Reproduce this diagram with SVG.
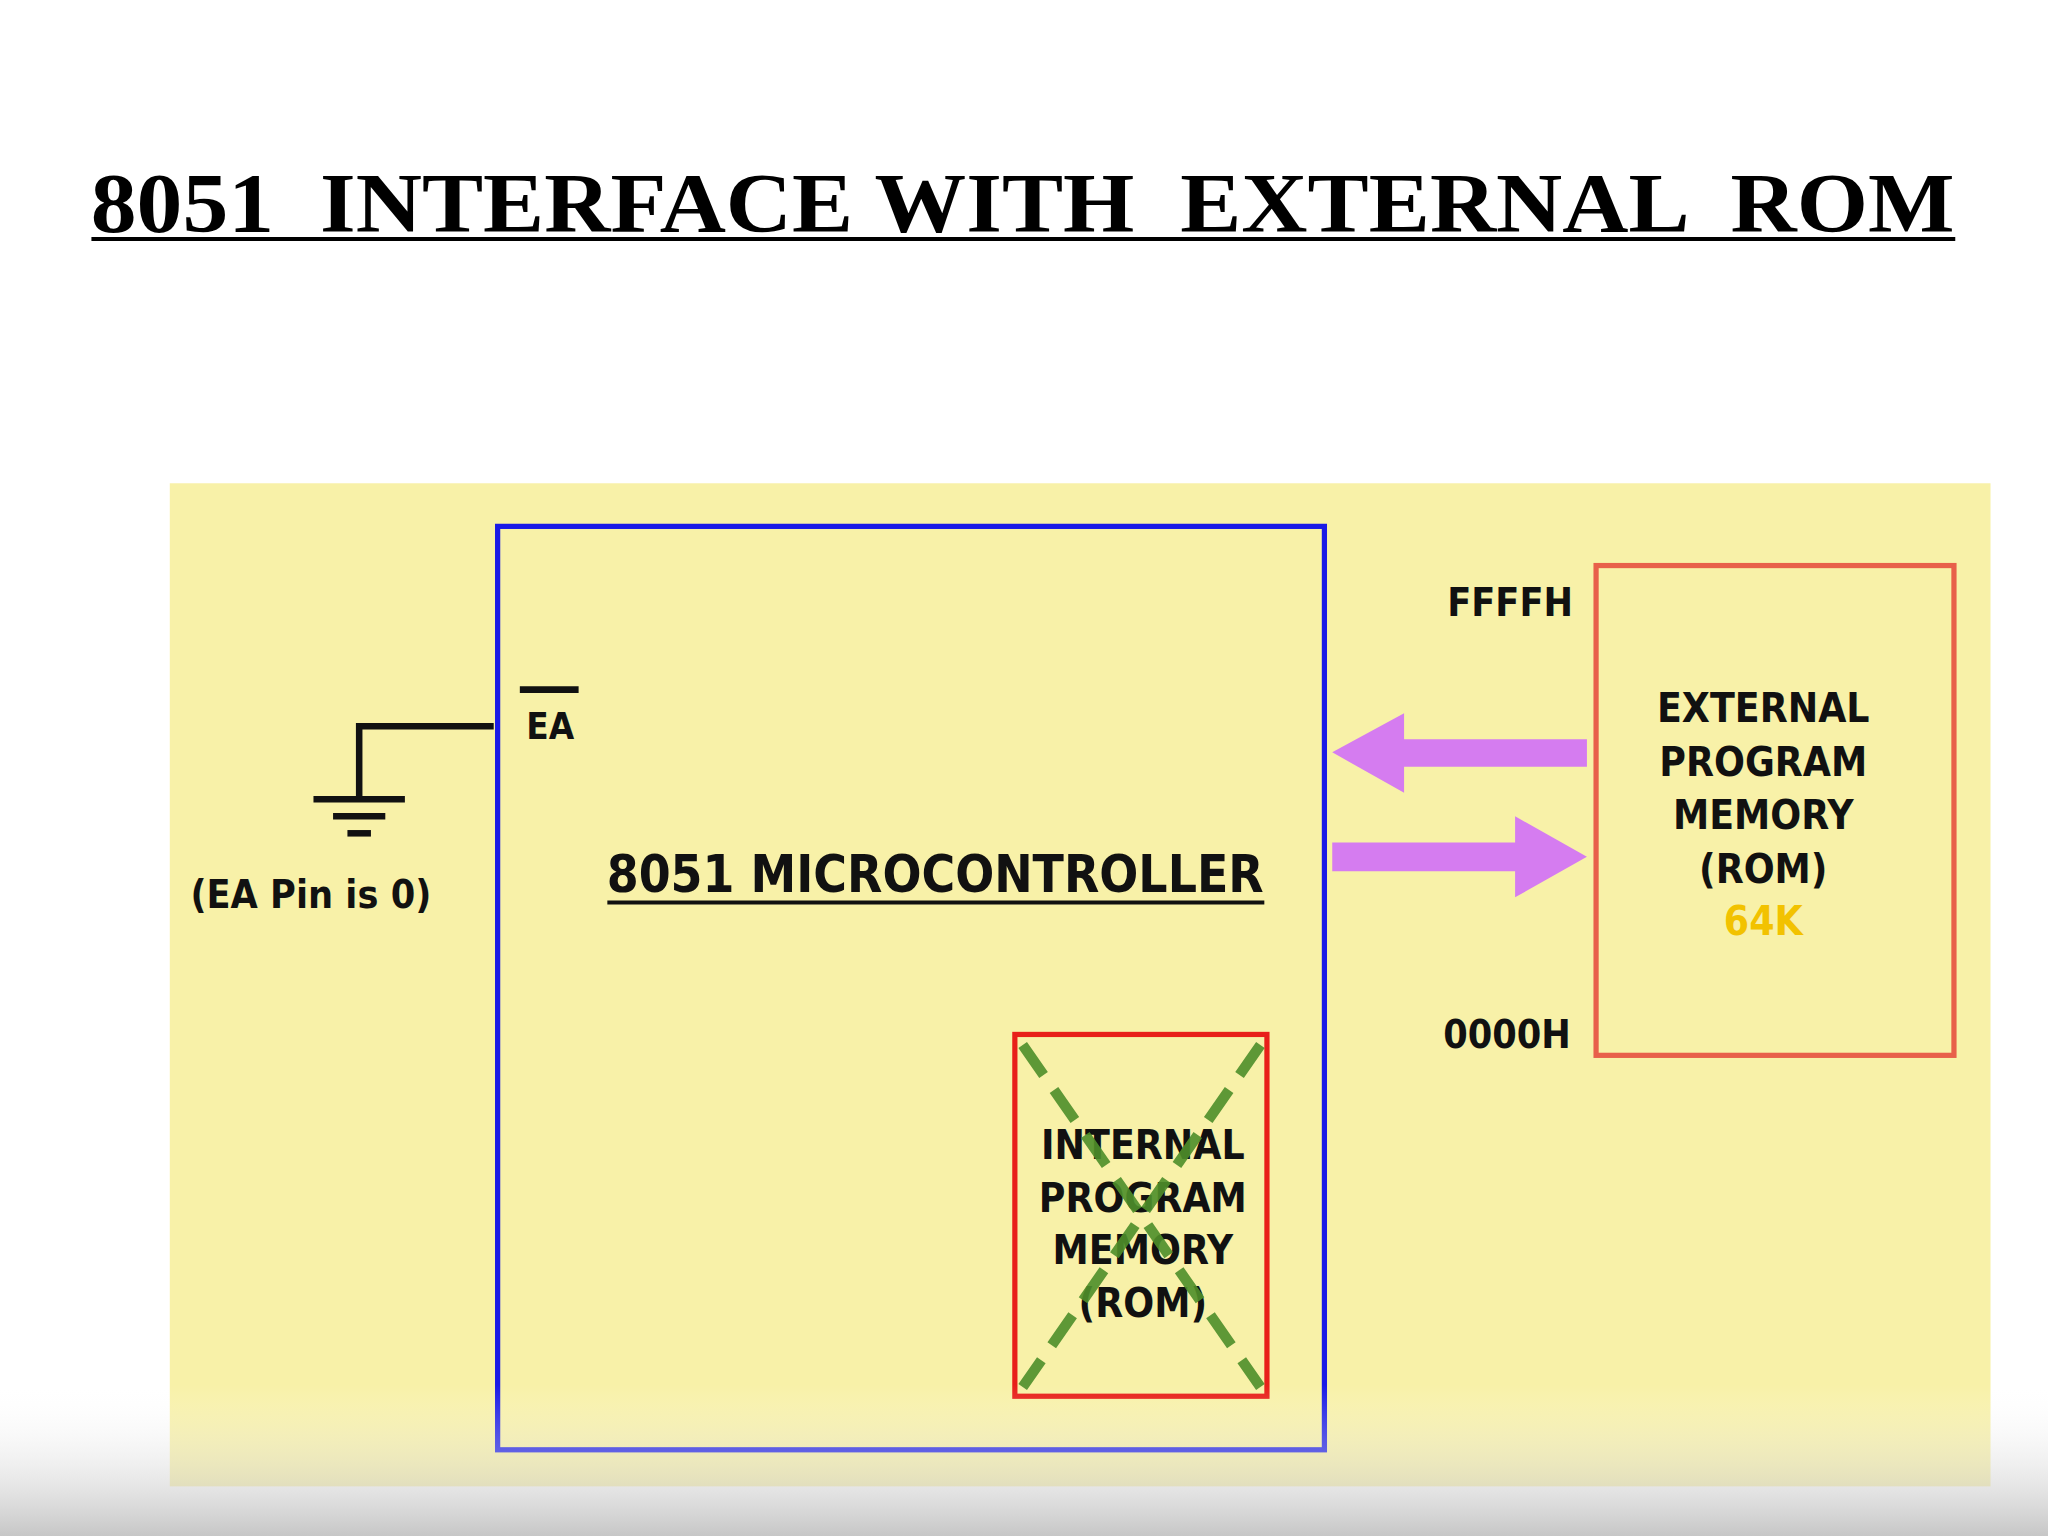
<svg xmlns="http://www.w3.org/2000/svg" width="2048" height="1536" viewBox="0 0 2048 1536">
<defs>
<style>
.t{font-family:"DejaVu Sans","Liberation Sans",sans-serif;font-stretch:condensed;font-weight:bold;fill:#111;}
.ln{stroke:#111;stroke-width:5;fill:none;}
</style>
<linearGradient id="g" x1="0" y1="0" x2="0" y2="1"><stop offset="0" stop-color="#fff" stop-opacity="0"/><stop offset="1" stop-color="#b8b8b8"/></linearGradient>
</defs>
<rect width="2048" height="1536" fill="#fff"/>
<g transform="scale(1.30612)">
<g id="title"><text x="783" y="178" text-anchor="middle" xml:space="preserve" font-family="Liberation Serif,serif" font-weight="bold" font-size="64" fill="#000" textLength="1427" lengthAdjust="spacingAndGlyphs">8051  INTERFACE WITH  EXTERNAL  ROM</text><line x1="70" y1="183" x2="1497" y2="183" stroke="#000" stroke-width="3"/></g>
<rect x="130" y="370" width="1394" height="768" fill="#f8f1a8"/>
<g id="mcu"><rect x="381" y="403" width="633" height="707" fill="none" stroke="#1a1ae6" stroke-width="4"/>
<text class="t" x="716" y="683" text-anchor="middle" font-size="40" textLength="503" lengthAdjust="spacingAndGlyphs">8051 MICROCONTROLLER</text><line x1="465" y1="691" x2="968" y2="691" stroke="#111" stroke-width="3"/>
<text class="t" x="403" y="566" font-size="28">EA</text><line x1="398" y1="528" x2="443" y2="528" class="ln"/></g>
<g id="ground"><path class="ln" d="M378 556H275V612"/><line class="ln" x1="240" y1="612" x2="310" y2="612"/><line class="ln" x1="255" y1="625" x2="295" y2="625"/><line class="ln" x1="266" y1="638" x2="284" y2="638"/>
<text class="t" x="238" y="695" text-anchor="middle" font-size="30">(EA Pin is 0)</text></g>
<g id="internal"><rect x="777" y="792" width="193" height="277" fill="none" stroke="#e8201a" stroke-width="4"/>
<g class="t" font-size="31" text-anchor="middle"><text x="875" y="887">INTERNAL</text><text x="875" y="928">PROGRAM</text><text x="875" y="968">MEMORY</text><text x="875" y="1008">(ROM)</text></g>
<g stroke="#4e8f2a" stroke-width="8" stroke-dasharray="28 14" opacity="0.9"><line x1="783" y1="800" x2="965" y2="1062"/><line x1="965" y1="800" x2="783" y2="1062"/></g></g>
<g id="external"><rect x="1222" y="433" width="274" height="375" fill="none" stroke="#e8604a" stroke-width="4"/>
<g class="t" font-size="31" text-anchor="middle"><text x="1350" y="553">EXTERNAL</text><text x="1350" y="594">PROGRAM</text><text x="1350" y="635">MEMORY</text><text x="1350" y="676">(ROM)</text><text x="1350" y="716" style="fill:#f2c200">64K</text></g>
<text class="t" x="1108" y="472" font-size="30">FFFFH</text><text class="t" x="1105" y="802" font-size="30">0000H</text></g>
<g id="connectors" fill="#d57cf0"><polygon points="1020,576 1075,546 1075,566 1215,566 1215,587 1075,587 1075,607"/><polygon points="1215,656 1160,625 1160,645 1020,645 1020,667 1160,667 1160,687"/></g>
<rect x="0" y="1060" width="1568" height="116" fill="url(#g)" opacity="0.8"/>
</g>
</svg>
